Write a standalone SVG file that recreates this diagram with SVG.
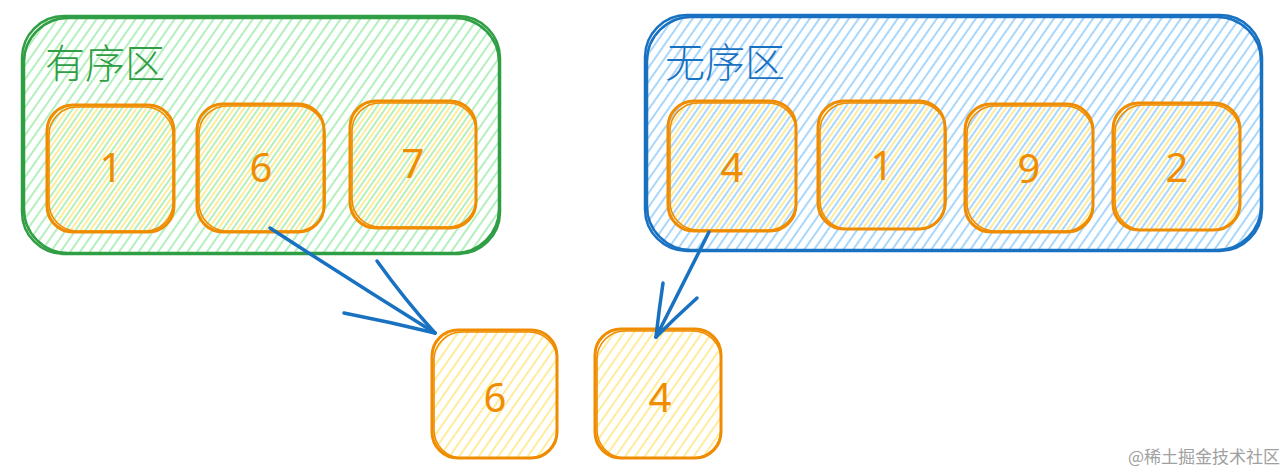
<svg xmlns="http://www.w3.org/2000/svg" width="1287" height="471" viewBox="0 0 1287 471">
<defs>
<pattern id="hG" width="8" height="8" patternUnits="userSpaceOnUse" patternTransform="rotate(35)"><line x1="2" y1="0" x2="2" y2="8" stroke="#a6eeb2" stroke-width="1.7"/></pattern>
<pattern id="hB" width="8" height="8" patternUnits="userSpaceOnUse" patternTransform="rotate(35)"><line x1="2" y1="0" x2="2" y2="8" stroke="#99d0fc" stroke-width="1.7"/></pattern>
<pattern id="hY" width="8" height="8" patternUnits="userSpaceOnUse" patternTransform="rotate(35)"><line x1="6" y1="0" x2="6" y2="8" stroke="#ffe98a" stroke-width="1.7"/></pattern>
<style>
.g{fill:none;stroke:#2f9e44;stroke-width:2.5}
.b{fill:none;stroke:#1971c2;stroke-width:2.5}
.o{fill:url(#hY);stroke:#f08c00;stroke-width:3}
.o2{fill:none;stroke:#f08c00;stroke-width:1.6}
.d{font-family:"Noto Sans","DejaVu Sans",sans-serif;font-weight:400;font-size:40px;fill:#f08c00;text-anchor:middle}
.t{font-family:"Noto Sans CJK SC",sans-serif;font-weight:300;font-size:40px}
.a{fill:none;stroke:#1971c2;stroke-width:3.5;stroke-linecap:round}
</style>
</defs>
<g id="ordered">
<rect x="22" y="16" width="478" height="238" rx="42" fill="url(#hG)"/>
<rect x="22" y="16" width="478" height="238" rx="42" class="g"/>
<rect x="24" y="18" width="475" height="235" rx="44" class="g" stroke-width="1.5"/>
<text x="45" y="78" class="t" fill="#2f9e44">有序区</text>
</g>
<g id="unordered">
<rect x="645" y="15" width="617" height="236" rx="42" fill="url(#hB)"/>
<rect x="645" y="15" width="617" height="236" rx="42" class="b"/>
<rect x="647" y="17" width="614" height="233" rx="44" class="b" stroke-width="1.5"/>
<text x="665" y="77" class="t" fill="#1971c2">无序区</text>
</g>
<g id="o1"><rect x="47" y="105" width="127" height="127" rx="26" class="o"/><rect x="49" y="107" width="124" height="124" rx="28" class="o2"/><text x="111" y="182" class="d">1</text></g>
<g id="o6"><rect x="197" y="104" width="127" height="128" rx="26" class="o"/><rect x="199" y="106" width="126" height="125" rx="28" class="o2"/><text x="261" y="182" class="d">6</text></g>
<g id="o7"><rect x="350" y="101" width="126" height="127" rx="26" class="o"/><rect x="352" y="103" width="124" height="124" rx="28" class="o2"/><text x="413" y="178" class="d">7</text></g>
<g id="u4"><rect x="668" y="101" width="128" height="130" rx="26" class="o"/><rect x="670" y="103" width="126" height="127" rx="28" class="o2"/><text x="732" y="182" class="d">4</text></g>
<g id="u1"><rect x="818" y="101" width="127" height="128" rx="26" class="o"/><rect x="820" y="103" width="126" height="126" rx="28" class="o2"/><text x="882" y="180" class="d">1</text></g>
<g id="u9"><rect x="965" y="104" width="128" height="128" rx="26" class="o"/><rect x="967" y="106" width="126" height="125" rx="28" class="o2"/><text x="1029" y="183" class="d">9</text></g>
<g id="u2"><rect x="1113" y="103" width="127" height="127" rx="26" class="o"/><rect x="1115" y="105" width="125" height="125" rx="28" class="o2"/><text x="1177" y="182" class="d">2</text></g>
<g id="r6"><rect x="432" y="330" width="125" height="128" rx="26" class="o"/><rect x="434" y="332" width="123" height="126" rx="28" class="o2"/><text x="495" y="412" class="d">6</text></g>
<g id="r4"><rect x="595" y="329" width="126" height="129" rx="26" class="o"/><rect x="597" y="331" width="124" height="127" rx="28" class="o2"/><text x="660" y="412" class="d">4</text></g>
<g id="connectors">
<path class="a" d="M270 228 Q350 280 435 333"/>
<path class="a" d="M377 261 Q405 300 435 333"/>
<path class="a" d="M344 313 Q390 322 435 333"/>
<path class="a" d="M709 232 Q680 290 656 337"/>
<path class="a" d="M663 283 Q659 310 656 337"/>
<path class="a" d="M697 298 Q675 318 656 337"/>
</g>
<text x="1280" y="463" text-anchor="end" font-family="'Noto Sans CJK SC',sans-serif" font-size="17" fill="#a0a0a0">@稀土掘金技术社区</text>
</svg>
